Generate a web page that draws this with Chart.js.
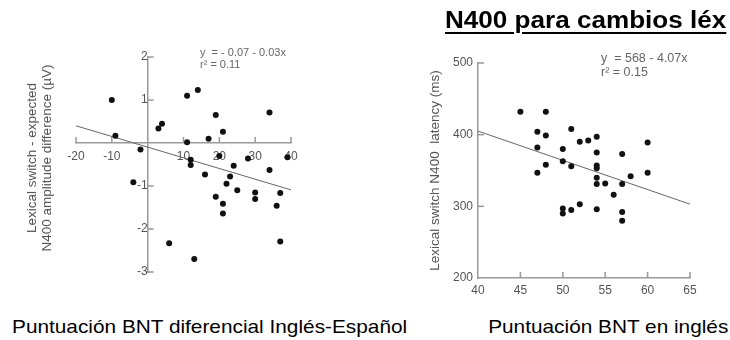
<!DOCTYPE html>
<html>
<head>
<meta charset="utf-8">
<script src="https://cdn.jsdelivr.net/npm/chart.js@4"></script>
<style>
  body { margin: 0; width: 730px; height: 340px; background: #fff; position: relative; overflow: hidden;
         font-family: "Liberation Sans", Arial, sans-serif; }
  .abs { position: absolute; }
  #title { left: 445px; top: 8px; font-size: 23.5px; font-weight: bold; line-height: 24px;
           white-space: nowrap; text-decoration: underline; text-decoration-thickness: 2px; text-underline-offset: 4px;
           transform: scaleX(1.11); transform-origin: left top; }
  .caption { top: 317px; font-size: 19px; line-height: 19px; white-space: nowrap; color: #000; }
  .ytitle { width: 240px; text-align: center; font-size: 13.5px; line-height: 15px; color: #555;
            transform: translate(-50%, -50%) rotate(-90deg); white-space: nowrap; }
  .eq { color: #666; white-space: nowrap; }
</style>
</head>
<body>
<div class="abs" style="left:0;top:0"><canvas id="diffChart" width="380" height="300"></canvas></div>
<div class="abs" style="left:400px;top:0"><canvas id="engChart" width="330" height="300"></canvas></div>

<div id="title" class="abs">N400 para cambios léx</div>
<div class="abs ytitle" style="left:39px;top:158px">Lexical switch - expected<br>N400 amplitude difference (µV)</div>
<div class="abs eq" style="left:200px;top:46px;font-size:11px;line-height:12px">y&nbsp; = - 0.07 - 0.03x<br>r² = 0.11</div>
<div class="abs eq" style="left:601px;top:51px;font-size:12.5px;line-height:14px">y&nbsp; = 568 - 4.07x<br>r² = 0.15</div>
<div class="abs caption" style="left:12px;transform:scaleX(1.095);transform-origin:left top">Puntuación BNT diferencial Inglés-Español</div>
<div class="abs caption" style="right:2px;transform:scaleX(1.095);transform-origin:right top">Puntuación BNT en inglés</div>

<script>
// left panel: BNT difference (English - Spanish) vs N400 amplitude difference
var diffX = [-10, -9, -2, -4, 3, 4, 6, 11, 11, 14, 12, 12, 13, 16, 17, 19, 19, 20, 21, 21, 21, 22, 23, 24, 25, 28, 30, 30, 34, 34, 36, 37, 37, 39];
var diffY = [1.0, 0.17, -0.15, -0.91, 0.34, 0.45, -2.33, 1.10, 0.02, 1.23, -0.39, -0.51, -2.70, -0.73, 0.10, 0.65, -1.25, -0.30, 0.26, -1.41, -1.64, -0.95, -0.78, -0.53, -1.10, -0.36, -1.15, -1.30, 0.71, -0.63, -1.46, -1.16, -2.29, -0.33];
var diffFitX = [-20, 40];
var diffFitY = [0.40, -1.09];

// right panel: English BNT score vs N400 latency
var engX = [45, 48, 47, 48, 47, 48, 47, 51, 50, 50, 51, 52, 53, 54, 54, 54, 54, 54, 54, 55, 56, 57, 57, 58, 60, 60, 50, 50, 51, 52, 54, 57, 57];
var engY = [432, 432, 404, 399, 382, 358, 347, 408, 380, 363, 356, 390, 392, 397, 375, 357, 353, 340, 331, 332, 316, 373, 331, 342, 389, 347, 297, 290, 295, 303, 296, 292, 280];
var engFitX = [40, 65];
var engFitY = [405, 303];

function pairs(xs, ys) {
  return xs.map(function (x, i) { return { x: x, y: ys[i] }; });
}

var axisGrey = '#999';
var tickFont = { family: 'Liberation Sans', size: 12 };

// short tick marks drawn inward from the axis lines
var inwardTicks = {
  id: 'inwardTicks',
  beforeDatasetsDraw: function (chart) {
    var ctx = chart.ctx, xs = chart.scales.x, ys = chart.scales.y, area = chart.chartArea;
    var xPos = xs.options.position, yPos = ys.options.position;
    var xLine = typeof xPos === 'object' ? ys.getPixelForValue(xPos.y) : area.bottom;
    var yLine = typeof yPos === 'object' ? xs.getPixelForValue(yPos.x) : area.left;
    ctx.save();
    ctx.strokeStyle = axisGrey;
    ctx.lineWidth = 1.5;
    xs.ticks.forEach(function (t) {
      var px = xs.getPixelForValue(t.value);
      if (Math.abs(px - yLine) < 2) return;
      ctx.beginPath(); ctx.moveTo(px, xLine); ctx.lineTo(px, xLine - 6); ctx.stroke();
    });
    ys.ticks.forEach(function (t) {
      var py = ys.getPixelForValue(t.value);
      if (Math.abs(py - xLine) < 2) return;
      ctx.beginPath(); ctx.moveTo(yLine, py); ctx.lineTo(yLine + 6, py); ctx.stroke();
    });
    ctx.restore();
  }
};

function hideZero(v) { return v === 0 ? '' : v; }

new Chart('diffChart', {
  type: 'scatter',
  data: {
    datasets: [{
      data: pairs(diffX, diffY),
      backgroundColor: '#111', borderWidth: 0, pointRadius: 3
    }, {
      type: 'line',
      data: pairs(diffFitX, diffFitY),
      borderColor: '#666', borderWidth: 1, pointRadius: 0
    }]
  },
  options: {
    responsive: false,
    animation: false,
    layout: { padding: { left: 76, right: 89, top: 57, bottom: 28 } },
    plugins: { legend: { display: false }, tooltip: { enabled: false } },
    scales: {
      x: {
        type: 'linear', min: -20, max: 40, position: { y: 0 },
        ticks: { stepSize: 10, padding: 6, color: '#555', font: tickFont, callback: hideZero, maxRotation: 0 },
        grid: { display: false, drawTicks: false },
        border: { color: axisGrey, width: 1.5 }
      },
      y: {
        type: 'linear', min: -3, max: 2, position: { x: 0 },
        ticks: { stepSize: 1, padding: 4, color: '#555', font: tickFont, callback: hideZero },
        grid: { display: false, drawTicks: false },
        border: { color: axisGrey, width: 1.5 }
      }
    }
  },
  plugins: [inwardTicks]
});

new Chart('engChart', {
  type: 'scatter',
  data: {
    datasets: [{
      data: pairs(engX, engY),
      backgroundColor: '#111', borderWidth: 0, pointRadius: 3
    }, {
      type: 'line',
      data: pairs(engFitX, engFitY),
      borderColor: '#666', borderWidth: 1, pointRadius: 0
    }]
  },
  options: {
    responsive: false,
    animation: false,
    layout: { padding: { left: 0, right: 40, top: 63, bottom: 0 } },
    plugins: { legend: { display: false }, tooltip: { enabled: false } },
    scales: {
      x: {
        type: 'linear', min: 40, max: 65,
        ticks: { stepSize: 5, padding: 5, color: '#555', font: tickFont, maxRotation: 0 },
        grid: { display: false, drawTicks: false },
        border: { color: axisGrey, width: 1.5 },
        afterFit: function (s) { s.height = 22; }
      },
      y: {
        type: 'linear', min: 200, max: 500,
        ticks: { stepSize: 100, padding: 5, color: '#555', font: tickFont },
        grid: { display: false, drawTicks: false },
        border: { color: axisGrey, width: 1.5 },
        title: { display: true, text: 'Lexical switch N400  latency (ms)', color: '#555',
                 font: { family: 'Liberation Sans', size: 13.5 }, padding: { top: 27, bottom: 0 } },
        afterFit: function (s) { s.width = 78; }
      }
    }
  },
  plugins: [inwardTicks]
});
</script>
</body>
</html>
